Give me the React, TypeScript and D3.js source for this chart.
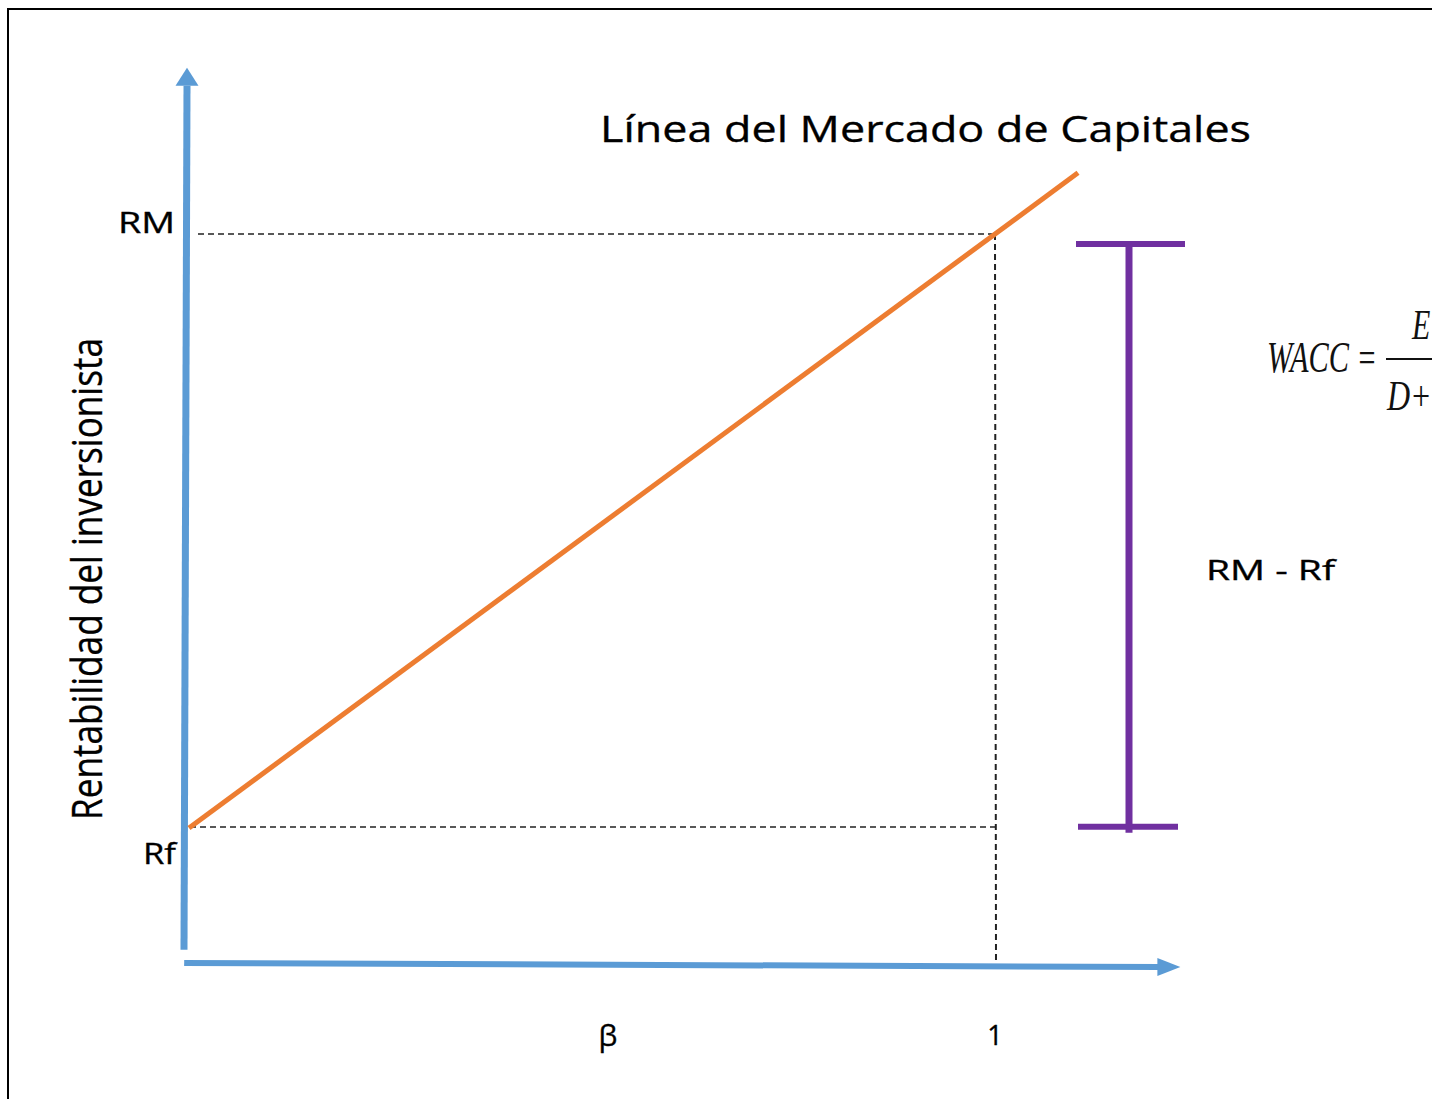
import React from "react";
import * as d3 from "d3";

// ---- data ----
const betaTicks = [1];
const betaTickLabels = ["1"];
const returnValues = [0, 1]; // Rf, RM (normalised)
const returnLabels = ["Rf", "RM"];
const smlBetas = [0, 1.103];
const premiumRange = [0.002, 0.983];
const xAxisExtent = [-0.006, 1.23];
const yAxisExtent = [-0.205, 1.28];
const titleText = "Línea del Mercado de Capitales";
const yLabelText = "Rentabilidad del inversionista";
const xLabelText = "β";
const premiumLabel = "RM - Rf";

const W = 1432;
const H = 1099;
const BLUE = "#5B9BD5";
const ORANGE = "#ED7D31";
const PURPLE = "#7030A0";
const FONT = "'Open Sans', 'Noto Sans', sans-serif";

export default function App() {
  const x = d3.scaleLinear().domain([0, 1]).range([189, 995]);
  const y = d3.scaleLinear().domain([0, 1]).range([828, 234]);
  const sml = (b: number) => 0 + b * (1 - 0);
  const line = d3
    .line<number>()
    .x((b) => x(b))
    .y((b) => y(sml(b)));

  const yAxBottom = y(yAxisExtent[0]);
  const yAxTip = y(yAxisExtent[1]);
  const yAxHeadBase = yAxTip + 18;
  const xAxLeft = x(xAxisExtent[0]);
  const xAxTip = x(xAxisExtent[1]);
  const xAxHeadBase = xAxTip - 23;

  const rfY = y(returnValues[0]);
  const rmY = y(returnValues[1]);
  const oneX = x(betaTicks[0]);

  const pTop = y(premiumRange[1]);
  const pBot = y(premiumRange[0]);
  const pX = 1129;

  const txt = { fontFamily: FONT, fill: "#000", stroke: "#000", strokeWidth: 0.35 } as const;

  return (
    <svg
      width={W}
      height={H}
      style={{ position: "absolute", left: 0, top: 0, background: "#fff" }}
    >
      <rect x={0} y={0} width={W} height={H} fill="#fff" />
      {/* frame */}
      <path d={`M8,${H} V9 H${W}`} fill="none" stroke="#000" strokeWidth={2} />

      {/* dashed guides */}
      <line x1={198} y1={rmY} x2={oneX} y2={rmY} stroke="#222" strokeWidth={1.5} strokeDasharray="6,4" />
      <line x1={190} y1={rfY - 1} x2={oneX + 2} y2={rfY - 1} stroke="#222" strokeWidth={1.5} strokeDasharray="6,4" />
      <line x1={oneX} y1={rmY} x2={oneX + 1} y2={966} stroke="#222" strokeWidth={2} strokeDasharray="6,4" />

      {/* y axis */}
      <line x1={184} y1={yAxBottom} x2={187} y2={yAxHeadBase} stroke={BLUE} strokeWidth={7} />
      <polygon points={`175.5,${yAxHeadBase} 198.5,${yAxHeadBase} 187,${yAxTip}`} fill={BLUE} />
      {/* x axis */}
      <line x1={xAxLeft} y1={963} x2={xAxHeadBase + 2} y2={967} stroke={BLUE} strokeWidth={6} />
      <polygon points={`${xAxHeadBase},958 ${xAxHeadBase},976 ${xAxTip},967`} fill={BLUE} />

      {/* security market line */}
      <path d={line(smlBetas) || ""} fill="none" stroke={ORANGE} strokeWidth={5} />

      {/* premium bracket */}
      <line x1={pX} y1={pTop} x2={pX} y2={pBot + 6} stroke={PURPLE} strokeWidth={7} />
      <line x1={1076} y1={pTop} x2={1185} y2={pTop} stroke={PURPLE} strokeWidth={6} />
      <line x1={1078} y1={pBot} x2={1178} y2={pBot} stroke={PURPLE} strokeWidth={6} />

      {/* text */}
      <text x={600} y={142} {...txt} fontSize={37} textLength={651} lengthAdjust="spacingAndGlyphs">
        {titleText}
      </text>
      <text x={118} y={233} {...txt} fontSize={29} textLength={57} lengthAdjust="spacingAndGlyphs">
        {returnLabels[1]}
      </text>
      <text x={143} y={864} {...txt} fontSize={30} textLength={33} lengthAdjust="spacingAndGlyphs">
        {returnLabels[0]}
      </text>
      <text x={1206} y={580} {...txt} fontSize={28} textLength={129} lengthAdjust="spacingAndGlyphs">
        {premiumLabel}
      </text>
      <text x={608} y={1046} textAnchor="middle" {...txt} fontSize={30}>
        {xLabelText}
      </text>
      {betaTicks.map((b, i) => (
        <text key={i} x={x(b)} y={1045} textAnchor="middle" {...txt} fontSize={27}>
          {betaTickLabels[i]}
        </text>
      ))}
      <text
        transform="translate(102,820) rotate(-90)"
        {...txt}
        fontSize={42}
        textLength={482}
        lengthAdjust="spacingAndGlyphs"
      >
        {yLabelText}
      </text>

      {/* WACC formula (at the right edge, as in the reference) */}
      <g fontFamily="'Liberation Serif', 'Times New Roman', serif" fontStyle="italic" fill="#111">
        <text transform="translate(1267,372) scale(1,1.45)" x={0} y={0} fontSize={30} textLength={110} lengthAdjust="spacingAndGlyphs">WACC =</text>
        <line x1={1386} y1={359} x2={1440} y2={359} stroke="#111" strokeWidth={2} />
        <text transform="translate(1412,339) scale(1,1.4)" x={0} y={0} fontSize={30}>E</text>
        <text transform="translate(1387,410) scale(1,1.3)" x={0} y={0} fontSize={32}>D+</text>
      </g>
    </svg>
  );
}
